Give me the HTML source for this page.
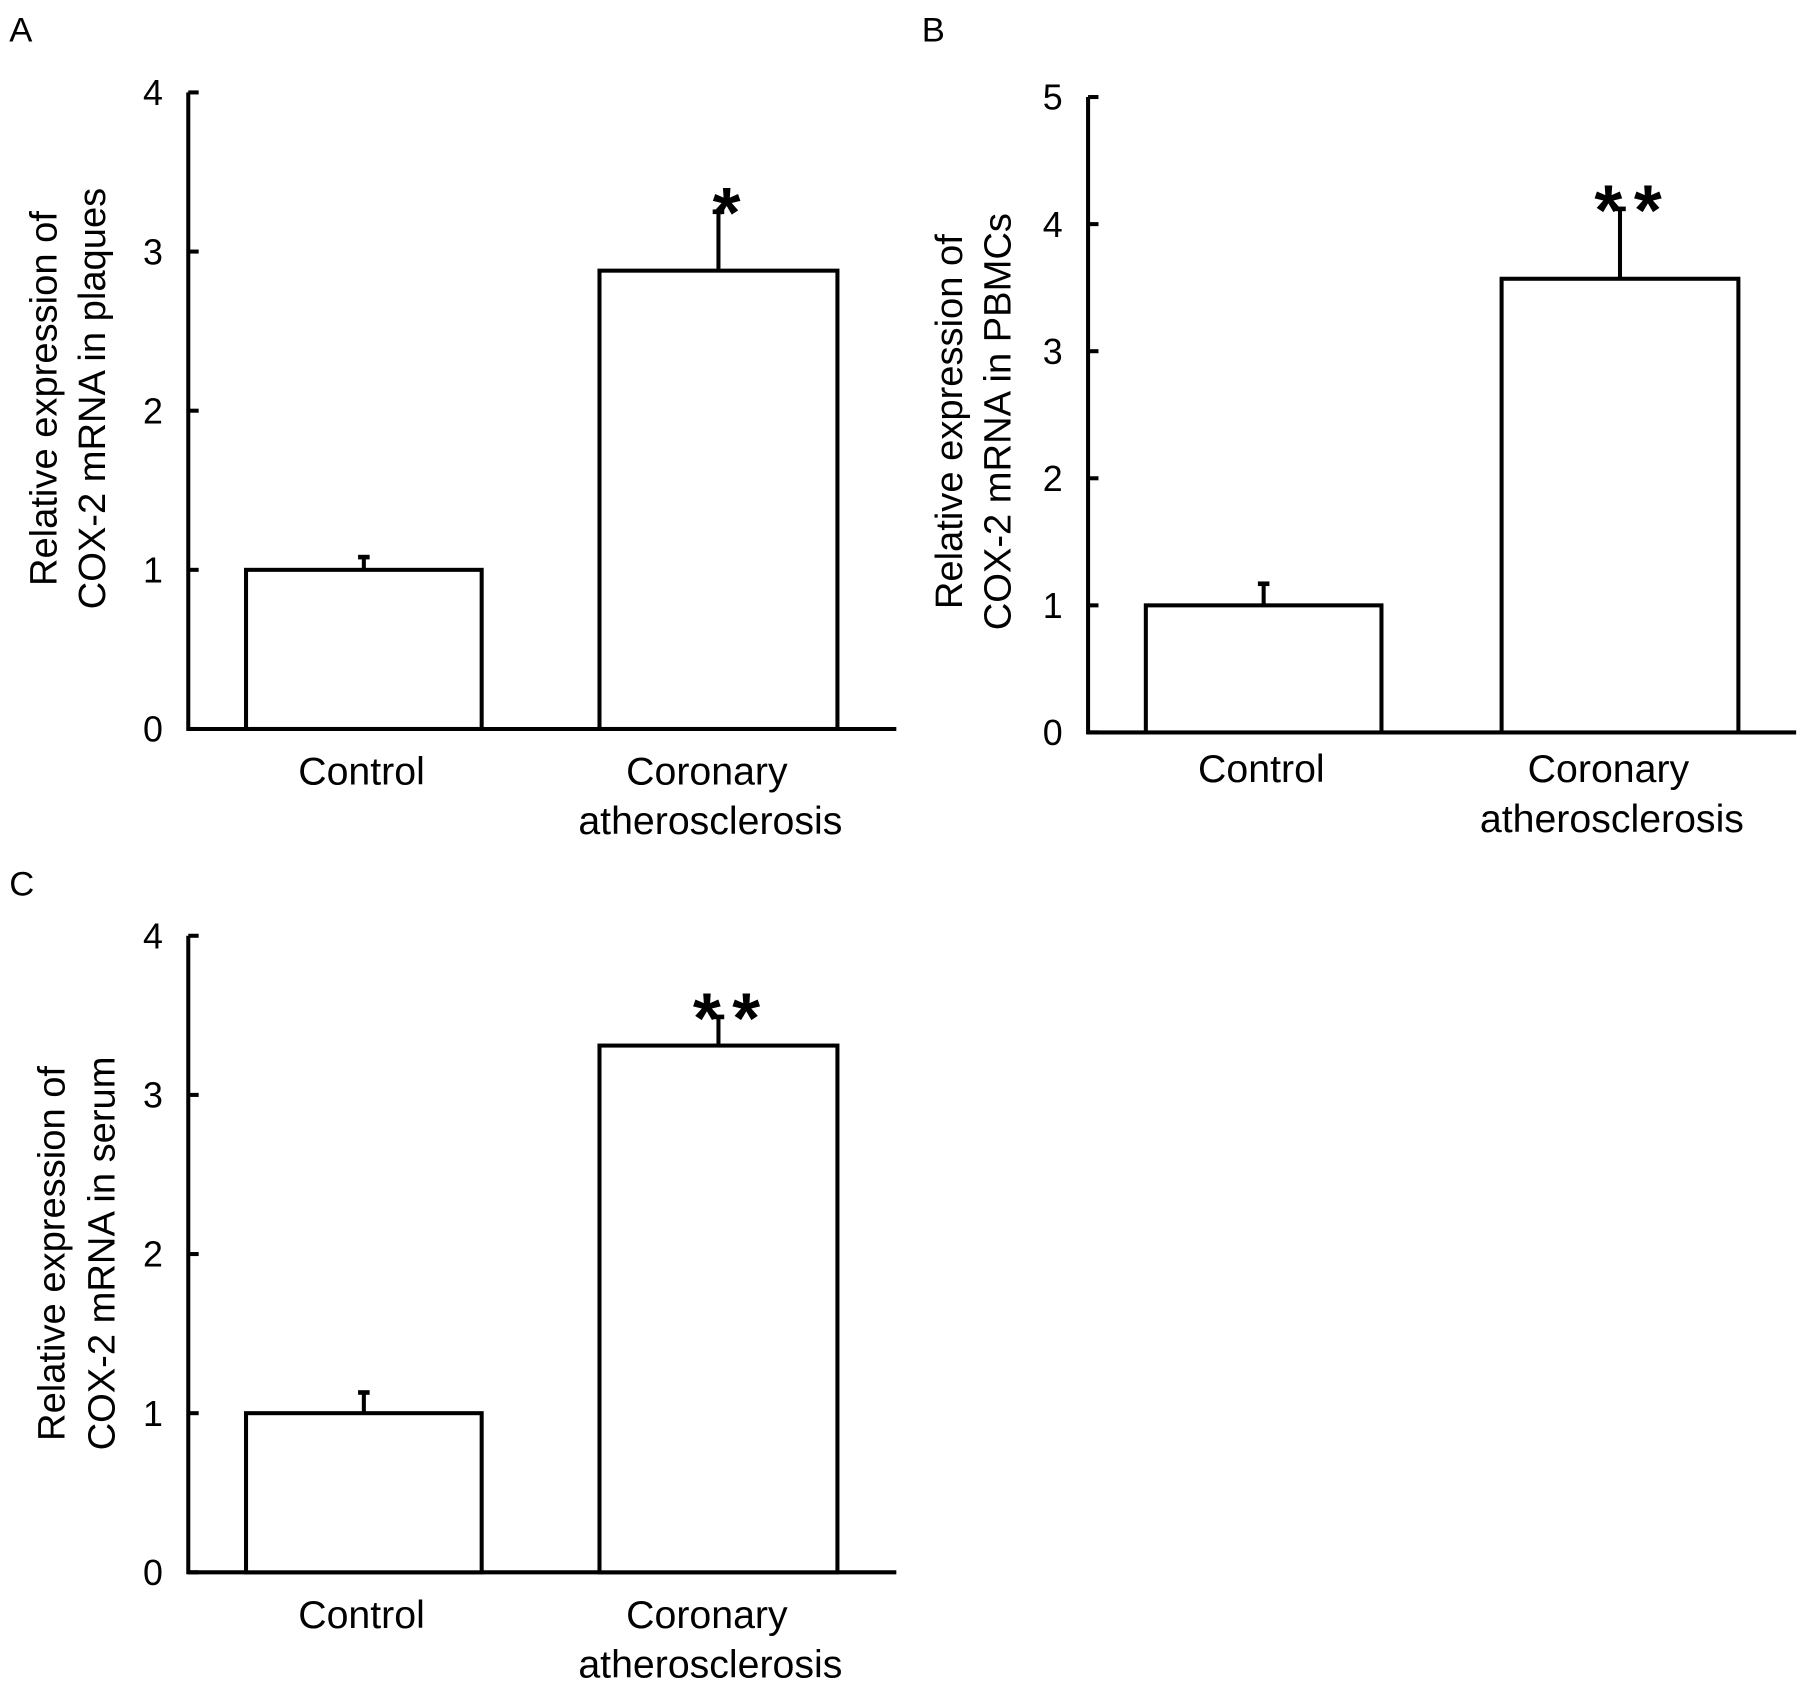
<!DOCTYPE html>
<html><head><meta charset="utf-8"><style>
html,body{margin:0;padding:0;background:#fff;}
svg{display:block;font-family:"Liberation Sans",Arial,sans-serif;}
</style></head><body>
<svg id="fig" width="1810" height="1689" viewBox="0 0 1567 1462" preserveAspectRatio="none" xmlns="http://www.w3.org/2000/svg"></svg>
<script>
const categories = ["Control", "Coronary atherosclerosis"];
const valuesA = [1.0, 2.88];
const errorsA = [0.08, 0.37];
const valuesB = [1.0, 3.57];
const errorsB = [0.17, 0.55];
const valuesC = [1.0, 3.31];
const errorsC = [0.13, 0.18];
const ticksA = [0, 1, 2, 3, 4];
const ticksB = [0, 1, 2, 3, 4, 5];
const ticksC = [0, 1, 2, 3, 4];
const sigA = ["", "*"];
const sigB = ["", "**"];
const sigC = ["", "**"];

const NS = "http://www.w3.org/2000/svg";
const svg = document.getElementById("fig");
function mk(tag, attrs, parent) {
  const e = document.createElementNS(NS, tag);
  for (const k in attrs) e.setAttribute(k, attrs[k]);
  (parent || svg).appendChild(e);
  return e;
}
const panels = [
  {letter:"A", lx:8, ly:36, ax:163, top:80, bot:631, xend:776, max:4, ticks:ticksA, vals:valuesA, errs:errorsA, sig:sigA,
   bars:[[213,417],[519,725]], title:["Relative expression of","COX-2 mRNA in plaques"], tx:[38,80], ty:345, catY:667},
  {letter:"B", lx:798, ly:36, ax:942, top:84, bot:634, xend:1555, max:5, ticks:ticksB, vals:valuesB, errs:errorsB, sig:sigB,
   bars:[[992,1196],[1300,1505]], title:["Relative expression of","COX-2 mRNA in PBMCs"], tx:[822,864], ty:365, catY:665},
  {letter:"C", lx:8, ly:775, ax:163, top:810, bot:1361, xend:776, max:4, ticks:ticksC, vals:valuesC, errs:errorsC, sig:sigC,
   bars:[[213,417],[519,725]], title:["Relative expression of","COX-2 mRNA in serum"], tx:[45,88], ty:1085, catY:1397}
];
panels.forEach((p, pi) => {
  const g = mk("g", {});
  
  
  const y = v => p.bot - (v / p.max) * (p.bot - p.top);
  const lt = mk("text", {x:p.lx, y:p.ly, "font-size":30, fill:"#000"}, g);
  lt.textContent = p.letter;
  
  
  const ya = mk("line", {x1:p.ax, y1:p.top, x2:p.ax, y2:p.bot+1.5, stroke:"#000", "stroke-width":3.5}, g);
  
  
  const xa = mk("line", {x1:p.ax-1.5, y1:p.bot, x2:p.xend, y2:p.bot, stroke:"#000", "stroke-width":3.5}, g);
  
  
  p.ticks.forEach(t => {
    const tk = mk("line", {x1:p.ax, y1:y(t), x2:p.ax+9, y2:y(t), stroke:"#000", "stroke-width":3.5}, g);
    
    
    const tl = mk("text", {x:p.ax-22, y:y(t)+11, "font-size":31, "text-anchor":"end", fill:"#000"}, g);
    tl.textContent = t;
    
    
  });
  p.title.forEach((line, i) => {
    const tt = mk("text", {x:0, y:0, "font-size":33, "text-anchor":"middle", fill:"#000",
      transform:"translate(" + (p.tx[i] + 11) + "," + p.ty + ") rotate(-90)"}, g);
    tt.textContent = line;
    
    
  });
  p.vals.forEach((v, i) => {
    const [x0, x1] = p.bars[i];
    const cx = (x0 + x1) / 2;
    const eb = mk("line", {x1:cx, y1:y(v), x2:cx, y2:y(v + p.errs[i]), stroke:"#000", "stroke-width":3.5}, g);
    
    
    const cap = mk("line", {x1:cx-5, y1:y(v + p.errs[i]), x2:cx+5, y2:y(v + p.errs[i]), stroke:"#000", "stroke-width":4}, g);
    
    
    const r = mk("rect", {x:x0, y:y(v), width:x1-x0, height:p.bot - y(v), fill:"#fff", stroke:"#000", "stroke-width":3.5}, g);
    
    
    if (p.sig[i]) {
      const s = mk("text", {x:cx + 12, y:y(v + p.errs[i]) + 22, "font-size":62, "font-weight":"bold", "text-anchor":"middle", fill:"#000", "letter-spacing":"10"}, g);
      s.textContent = p.sig[i];
      
      
    }
    const words = categories[i].split(" ");
    words.forEach((w, j) => {
      const c = mk("text", {x:cx + (i === 0 ? -2 : -10 + (j ? 3 : 0)), y:p.catY + 12 + j*43, "font-size":34, "text-anchor":"middle", fill:"#000"}, g);
      c.textContent = w;
      
      
    });
  });
});
</script>
</body></html>
